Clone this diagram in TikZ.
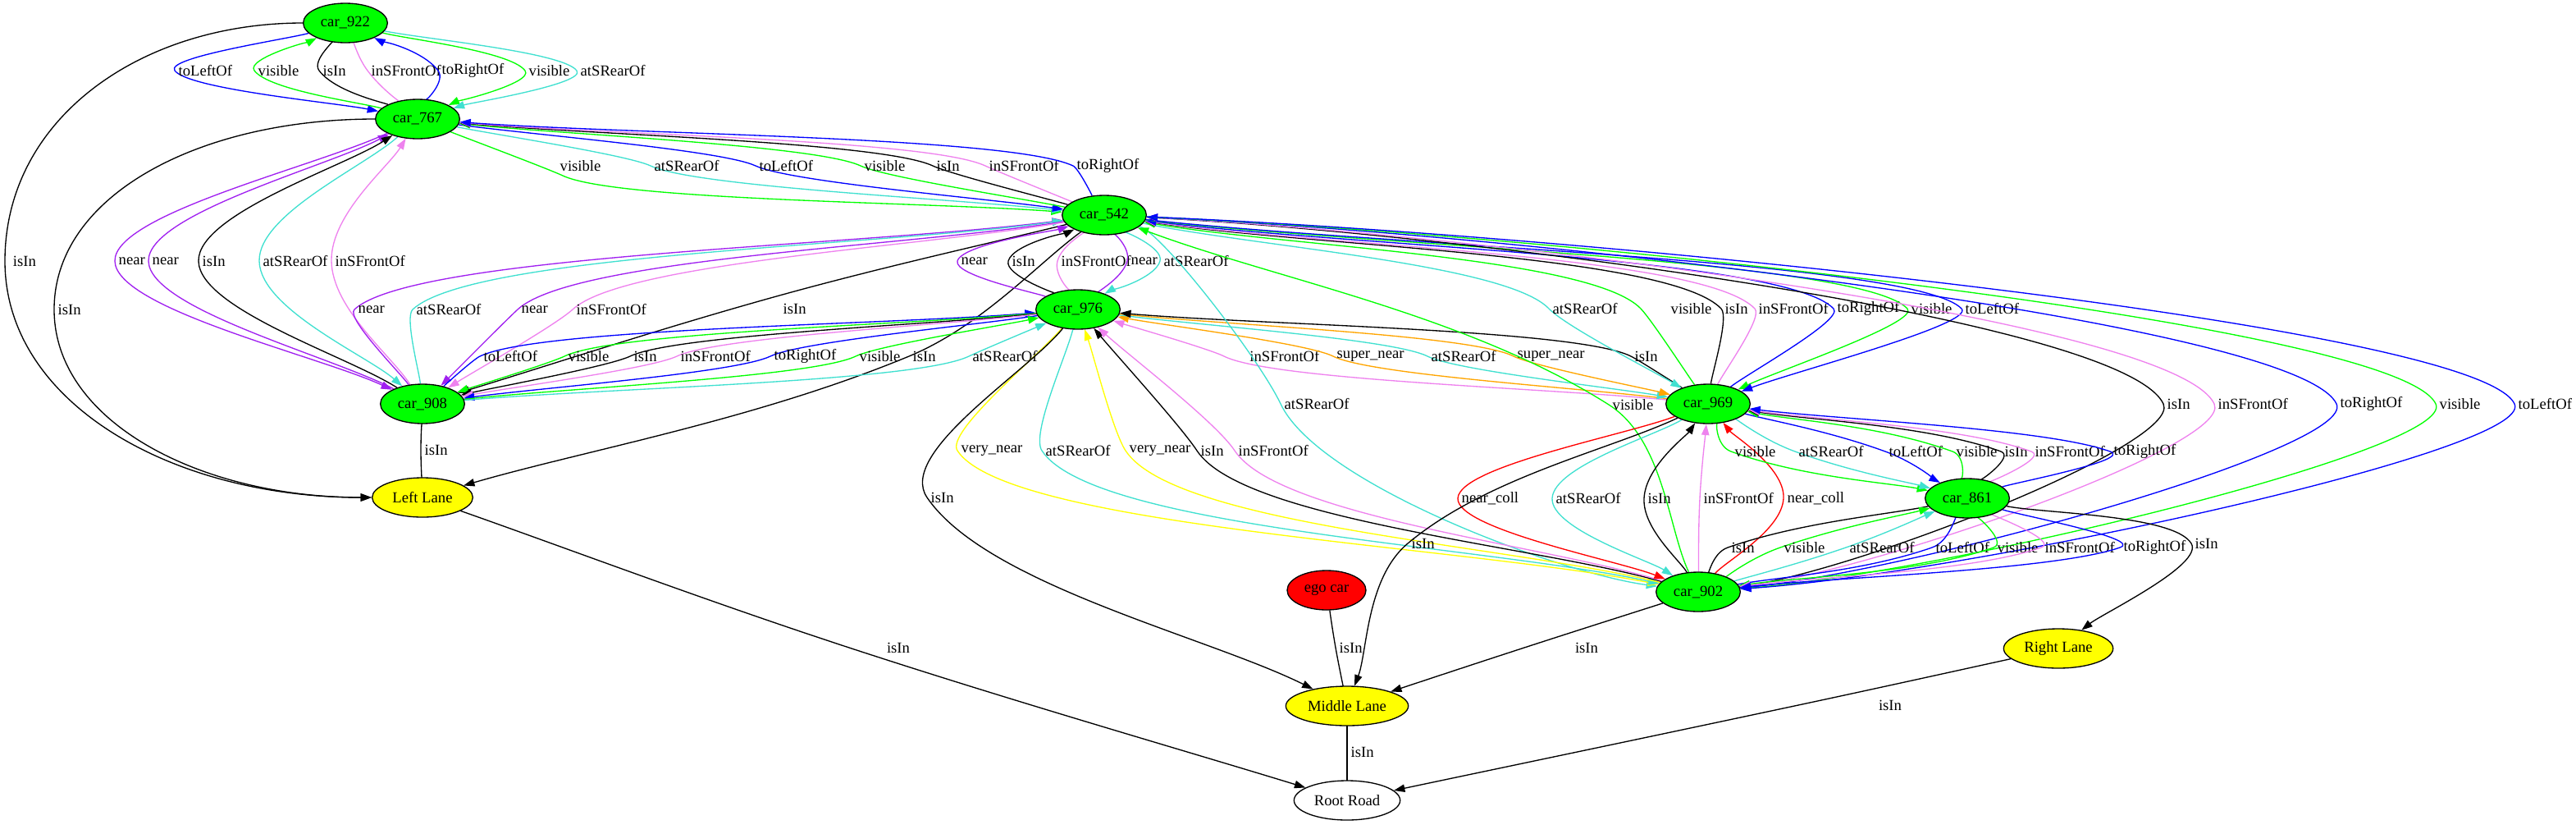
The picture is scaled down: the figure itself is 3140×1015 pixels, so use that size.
\documentclass[tikz,border=0pt]{standalone}
\usepackage{fontspec}
\setmainfont{Liberation Serif}
\usetikzlibrary{arrows.meta,shapes.geometric,calc}

\definecolor{gvgreen}{RGB}{0,255,0}
\definecolor{gvblue}{RGB}{0,0,255}
\definecolor{gvviolet}{RGB}{238,130,238}
\definecolor{gvpurple}{RGB}{160,32,240}
\definecolor{gvturq}{RGB}{64,224,208}
\definecolor{gvorange}{RGB}{255,165,0}
\definecolor{gvyellow}{RGB}{255,255,0}
\definecolor{gvred}{RGB}{255,0,0}

\pgfdeclarelayer{edges}
\pgfsetlayers{edges,main}

% relation edge: from #4 to #5 through (#7,#8), label #9 there
% #1 = flatness of the tangent at the label, #2 = how straight the ends leave
\newcommand{\sgcurve}[9]{%
  \draw[#6] let \p1=(#4), \p2=(#5), \p3=(#7,#8),
    \n1={veclen(\x3-\x1,\y3-\y1)}, \n2={veclen(\x2-\x3,\y2-\y3)},
    \n3={\n1/(\n1+\n2)/3}, \n4={\n2/(\n1+\n2)/3} in
    (#4) .. controls ({\x1+(\x3-\x1)/3},{\y1+#2*(\y3-\y1)/3})
      and ({\x3-\n3*#1*(\x2-\x1)},{\y3-\n3*(\y2-\y1)}) .. (\p3) node[lbl,#3]{#9}
    .. controls ({\x3+\n4*#1*(\x2-\x1)},{\y3+\n4*(\y2-\y1)})
      and ({\x2+(\x3-\x2)/3},{\y2+#2*(\y3-\y2)/3}) .. (#5);}
\newcommand{\sgrel}[7][]{\sgcurve{1}{1}{#1}{#2}{#3}{#4}{#5}{#6}{#7}}
\newcommand{\sgarc}[7][]{\sgcurve{0.3}{1}{#1}{#2}{#3}{#4}{#5}{#6}{#7}}
\newcommand{\sgrow}[7][]{\sgcurve{0.3}{0.3}{#1}{#2}{#3}{#4}{#5}{#6}{#7}}
% side edge: out sideways, down through the label point, back in sideways
\newcommand{\sgbox}[7][]{%
  \draw[#4] let \p1=(#2), \p2=(#3), \p3=(#5,#6) in
    (#2) .. controls ({\x3+0.4*(\x1-\x3)},\y1) and (\x3,{\y1+0.4*(\y3-\y1)}) .. (\p3) node[lbl,#1]{#7}
    .. controls (\x3,{\y2+0.4*(\y3-\y2)}) and ({\x3+0.4*(\x2-\x3)},\y2) .. (#3);}

\begin{document}
\begin{tikzpicture}[
    x=0.75pt, y=-0.75pt,
    >={Triangle[length=10pt,width=7pt]},
    every node/.style={font=\fontsize{14}{16}\selectfont},
    obj/.style={ellipse,draw,line width=1pt,inner sep=1pt,minimum height=36pt},
    car/.style={obj,fill=gvgreen,minimum width=77pt},
    lane/.style={obj,fill=gvyellow},
    lbl/.style={anchor=west,inner sep=0pt,xshift=3pt,text=black},
    link/.style={->,line width=1pt},
    isin/.style={link,black},
    vis/.style={link,gvgreen},
    lft/.style={link,gvblue},
    rgt/.style={link,gvblue},
    front/.style={link,gvviolet},
    rear/.style={link,gvturq},
    nearby/.style={link,gvpurple},
    supnear/.style={link,gvorange},
    vnear/.style={link,gvyellow},
    coll/.style={link,gvred}
]
\useasboundingbox (0,0) rectangle (3140,1015);

% cars
\node[car] (c922) at (421,28) {car\_922};
\node[car] (c767) at (509,145) {car\_767};
\node[car] (c542) at (1346,262) {car\_542};
\node[car] (c976) at (1314,377) {car\_976};
\node[car] (c908) at (515,492) {car\_908};
\node[car] (c969) at (2082,492) {car\_969};
\node[car] (c861) at (2398,607) {car\_861};
\node[car] (c902) at (2070,721) {car\_902};
\node[obj,fill=gvred,minimum width=72pt] (ego) at (1617,719) {ego car};

% lanes and road
\node[lane,minimum width=92pt] (leftlane) at (515,606) {Left Lane};
\node[lane,minimum width=112pt] (midlane) at (1642,860) {Middle Lane};
\node[lane,minimum width=100pt] (rightlane) at (2509,790) {Right Lane};
\node[obj,fill=white,minimum width=97pt] (root) at (1642,975) {Root Road};

\begin{pgfonlayer}{edges}
% car_922 / car_767
\sgrel{c922}{c767}{lft}{213}{86}{toLeftOf}
\sgrel{c767}{c922}{vis}{310}{86}{visible}
\sgrel{c767}{c922}{isin}{389}{86}{isIn}
\sgrel{c767}{c922}{front}{448}{86}{inSFrontOf}
\sgrel{c767}{c922}{rgt}{534}{86}{toRightOf}
\sgrel{c922}{c767}{vis}{640}{86}{visible}
\sgrel{c922}{c767}{rear}{703}{86}{atSRearOf}

% into the left lane
\sgbox[xshift=4pt]{c922}{leftlane}{isin}{6}{318}{isIn}
\sgbox{c767}{leftlane}{isin}{66}{377}{isIn}
\sgrel{c908}{leftlane}{isin}{513}{548}{isIn}
\sgrel{c542}{leftlane}{isin}{1108}{434}{isIn}

% car_767 / car_908
\sgrel{c767}{c908}{nearby}{140}{318}{near}
\sgrel{c908}{c767}{nearby}{181}{318}{near}
\sgrel{c908}{c767}{isin}{242}{318}{isIn}
\sgrel{c767}{c908}{rear}{316}{318}{atSRearOf}
\sgrel{c908}{c767}{front}{404}{318}{inSFrontOf}

% car_767 / car_542
\sgarc[xshift=-6pt,yshift=9pt]{c767}{c542}{vis}{686}{214}{visible}
\sgarc{c767}{c542}{rear}{793}{202}{atSRearOf}
\sgarc{c767}{c542}{lft}{921}{202}{toLeftOf}
\sgarc{c542}{c767}{vis}{1049}{202}{visible}
\sgarc{c542}{c767}{isin}{1137}{202}{isIn}
\sgarc{c542}{c767}{front}{1201}{202}{inSFrontOf}
\sgarc{c542}{c767}{rgt}{1308}{202}{toRightOf}

% car_542 / car_908
\sgarc{c908}{c542}{nearby}{432}{377}{near}
\sgarc{c908}{c542}{rear}{503}{377}{atSRearOf}
\sgarc{c542}{c908}{nearby}{631}{377}{near}
\sgarc{c542}{c908}{front}{698}{377}{inSFrontOf}
\sgrel[yshift=-12pt]{c542}{c908}{isin}{950}{360}{isIn}

% car_542 / car_976
\sgrel{c976}{c542}{nearby}{1167}{318}{near}
\sgrel{c976}{c542}{isin}{1229}{318}{isIn}
\sgrel{c976}{c542}{front}{1289}{318}{inSFrontOf}
\sgrel{c542}{c976}{nearby}{1374}{318}{near}
\sgrel{c542}{c976}{rear}{1414}{318}{atSRearOf}

% car_908 / car_976
\sgarc{c908}{c976}{lft}{585}{434}{toLeftOf}
\sgarc{c976}{c908}{vis}{688}{434}{visible}
\sgarc{c976}{c908}{isin}{768}{434}{isIn}
\sgarc{c976}{c908}{front}{825}{434}{inSFrontOf}
\sgarc{c976}{c908}{rgt}{939}{434}{toRightOf}
\sgarc{c908}{c976}{vis}{1043}{434}{visible}
\sgarc{c908}{c976}{rear}{1181}{434}{atSRearOf}

% car_976 / car_969
\sgarc[xshift=20pt]{c969}{c976}{front}{1492}{434}{inSFrontOf}
\sgarc{c969}{c976}{supnear}{1625}{434}{super\_near}
\sgarc{c976}{c969}{rear}{1740}{434}{atSRearOf}
\sgarc{c976}{c969}{supnear}{1845}{434}{super\_near}
\sgarc{c969}{c976}{isin}{1988}{434}{isIn}

% car_542 / car_969
\sgarc{c542}{c969}{rear}{1888}{376}{atSRearOf}
\sgarc[xshift=24pt]{c969}{c542}{vis}{2000}{376}{visible}
\sgarc{c969}{c542}{isin}{2098}{376}{isIn}
\sgarc{c969}{c542}{front}{2139}{376}{inSFrontOf}
\sgarc{c969}{c542}{rgt}{2235}{376}{toRightOf}
\sgarc{c542}{c969}{vis}{2325}{376}{visible}
\sgarc{c542}{c969}{lft}{2391}{376}{toLeftOf}

% car_542 / car_902
\sgrow{c542}{c902}{rear}{1561}{492}{atSRearOf}
\sgrel{c902}{c542}{vis}{1961}{493}{visible}
\sgrow{c902}{c542}{isin}{2637}{492}{isIn}
\sgrow{c902}{c542}{front}{2699}{492}{inSFrontOf}
\sgrow{c902}{c542}{rgt}{2848}{492}{toRightOf}
\sgrow{c542}{c902}{vis}{2969}{492}{visible}
\sgrow{c542}{c902}{lft}{3065}{492}{toLeftOf}

% car_976 / car_902
\sgarc{c976}{c902}{vnear}{1167}{549}{very\_near}
\sgarc{c976}{c902}{rear}{1270}{549}{atSRearOf}
\sgarc{c902}{c976}{vnear}{1372}{549}{very\_near}
\sgarc{c902}{c976}{isin}{1459}{549}{isIn}
\sgarc{c902}{c976}{front}{1505}{549}{inSFrontOf}

% car_969 / car_902
\sgrel{c969}{c902}{coll}{1777}{607}{near\_coll}
\sgrel{c969}{c902}{rear}{1892}{607}{atSRearOf}
\sgrel{c902}{c969}{isin}{2004}{607}{isIn}
\sgrel{c902}{c969}{front}{2072}{607}{inSFrontOf}
\sgrel{c902}{c969}{coll}{2174}{607}{near\_coll}

% car_969 / car_861
\sgrel{c969}{c861}{vis}{2110}{550}{visible}
\sgrel{c969}{c861}{rear}{2188}{550}{atSRearOf}
\sgrel{c969}{c861}{lft}{2298}{550}{toLeftOf}
\sgrel{c861}{c969}{vis}{2380}{550}{visible}
\sgrel{c861}{c969}{isin}{2439}{550}{isIn}
\sgrel{c861}{c969}{front}{2476}{550}{inSFrontOf}
\sgrel{c861}{c969}{rgt}{2572}{550}{toRightOf}

% car_902 / car_861
\sgrel{c861}{c902}{isin}{2106}{667}{isIn}
\sgrel{c902}{c861}{vis}{2170}{667}{visible}
\sgrel{c902}{c861}{rear}{2250}{667}{atSRearOf}
\sgrel{c902}{c861}{lft}{2355}{667}{toLeftOf}
\sgrel{c861}{c902}{vis}{2430}{667}{visible}
\sgrel{c861}{c902}{front}{2488}{667}{inSFrontOf}
\sgrel{c861}{c902}{rgt}{2584}{667}{toRightOf}

% lanes to the road
\sgrel{c976}{midlane}{isin}{1130}{606}{isIn}
\sgrel{c969}{midlane}{isin}{1716}{662}{isIn}
\sgrel{ego}{midlane}{isin}{1628}{789}{isIn}
\sgrel[xshift=43pt]{c902}{midlane}{isin}{1858}{789}{isIn}
\sgrel{c861}{rightlane}{isin}{2671}{662}{isIn}
\sgrel[xshift=31pt]{leftlane}{root}{isin}{1035}{789}{isIn}
\sgrel{midlane}{root}{isin}{1642}{916}{isIn}
\sgrel[xshift=70pt]{rightlane}{root}{isin}{2192}{859}{isIn}
\end{pgfonlayer}

\end{tikzpicture}
\end{document}
